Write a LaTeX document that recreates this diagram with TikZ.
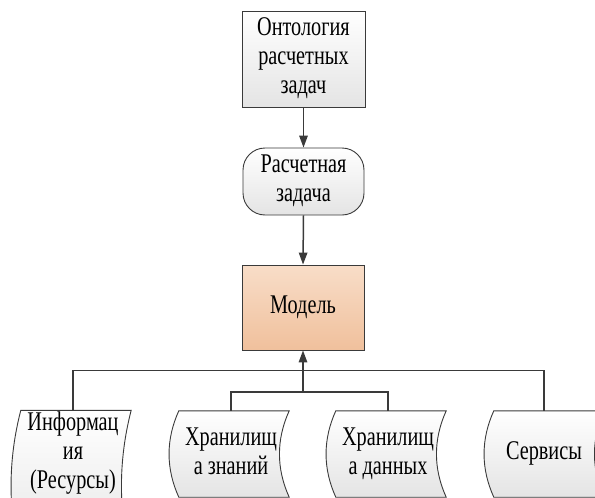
\documentclass[tikz,border=0pt]{standalone}
\usepackage{fontspec}
\setmainfont{Liberation Serif}
\usepackage{graphicx}
\usetikzlibrary{arrows.meta,backgrounds}

\definecolor{edge}{HTML}{3A3A3A}
\definecolor{paleg}{HTML}{E4E4E4}
\definecolor{peachtop}{HTML}{F8DDC8}
\definecolor{peachbot}{HTML}{F0C09C}

% narrow multi-line label
\newcommand{\sqz}[1]{\scalebox{0.75}[1]{\begin{tabular}{@{}c@{}}#1\end{tabular}}}

\tikzset{
  txt/.style={font=\fontsize{27}{29}\selectfont},
  box/.style={txt, draw=edge, line width=0.9pt, top color=white, bottom color=paleg,
              inner sep=0pt, minimum width=123pt},
  store/.style={txt, inner sep=0pt, minimum width=110pt, minimum height=86pt},
  conn/.style={draw=edge, line width=1.5pt},
  arr/.style={conn, -{Triangle[length=12pt,width=8.5pt]}}
}

\begin{document}
\begin{tikzpicture}[x=1pt, y=-1pt]

%\draw[help lines,step=50pt] (0,0) grid (595,498);
\useasboundingbox (0,0) rectangle (595,498);

\node[box, minimum height=96pt] (onto) at (303.5,59) {\sqz{Онтология\\расчетных\\задач}};
\node[box, rounded corners=22pt, minimum width=121pt, minimum height=67pt] (task) at (303.5,181.5)
     {\sqz{Расчетная\\задача}};
\node[box, top color=peachtop, bottom color=peachbot, minimum width=122pt, minimum height=85pt]
     (model) at (303,307.5) {\sqz{Модель}};

\node[store] (info)   at (73,454)  {\sqz{Информац\\ия\\(Ресурсы)}};
\node[store] (kstore) at (231,454) {\sqz{Хранилищ\\а знаний}};
\node[store] (dstore) at (388,454) {\sqz{Хранилищ\\а данных}};
\node[store] (serv)   at (544,454) {\sqz{Сервисы}};

% stored data outlines (info runs past the page)
\begin{scope}[on background layer]
\foreach \n/\dx/\dy in {info/3/64, kstore/3/0, dstore/3/0, serv/5/0}
  \draw[draw=edge, line width=0.9pt, top color=white, bottom color=paleg]
    ([xshift=\dx pt]\n.north west) .. controls +(-13,{(86+\dy)/3}) and +(-13,{-(86+\dy)/3})
      .. ([xshift=\dx pt,yshift=-\dy pt]\n.south west)
    -- ([xshift=\dx pt,yshift=-\dy pt]\n.south east) .. controls +(-13,{-(86+\dy)/3}) and +(-13,{(86+\dy)/3})
      .. ([xshift=\dx pt]\n.north east)
    -- cycle;
\end{scope}

\draw[arr] (onto.south) -- (task.north);
\draw[arr] (task.south) -- (model.north);

\draw[conn] (info.north) -- ++(0,-40) -| (serv.north);
\draw[conn] (kstore.north) -- ++(0,-19) -| (dstore.north);
\coordinate (hub) at ([yshift=19pt]model.south |- kstore.north);
\draw[arr] (hub) -- (model.south);

\end{tikzpicture}
\end{document}
